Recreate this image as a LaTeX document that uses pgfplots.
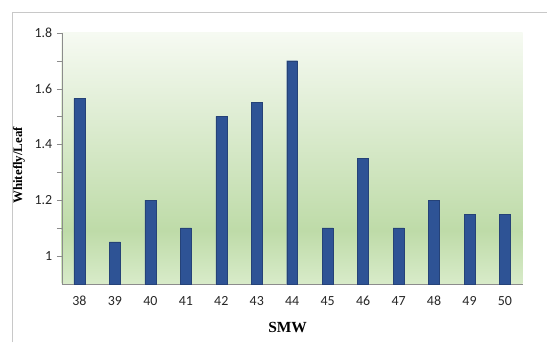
\documentclass[border=0pt]{standalone}
\usepackage{pgfplots}
\pgfplotsset{compat=1.18}
\usepackage{fontspec}
\setmainfont{Carlito}
\newfontfamily\tnr{Liberation Serif}
\definecolor{barblue}{HTML}{2E5395}
\definecolor{gtop}{HTML}{F6FAF2}
\definecolor{gmid}{HTML}{BEDBA8}
\definecolor{gbot}{HTML}{D8EBC9}
\definecolor{framegray}{HTML}{C8C8C8}
\definecolor{axgray}{HTML}{8C8C8C}
\begin{document}
\begin{tikzpicture}[x=1pt,y=1pt]
\path (0,0) rectangle (547,342);
\draw[framegray,line width=0.8pt] (12,-2) -- (12,330) -- (549,330);
% background gradient
\shade[top color=gtop, bottom color=gmid] (62,110) rectangle (525,309);
\shade[top color=gmid, bottom color=gbot] (62,57) rectangle (525,110.5);
\begin{axis}[
  at={(62pt,57pt)}, anchor=south west,
  scale only axis, width=463pt, height=252pt,
  xmin=37.5, xmax=50.5, ymin=0.9, ymax=1.8,
  axis line style={axgray},
  axis x line*=bottom, axis y line*=left,
  xtick={38,...,50}, xtick style={draw=none},
  ytick={1,1.2,1.4,1.6,1.8},
  minor ytick={1.1,1.3,1.5,1.7},
  yticklabels={1,1.2,1.4,1.6,1.8},
  ytick style={axgray}, tick align=outside,
  major tick length=5pt, minor tick length=5pt,
  minor tick style={axgray},
  tick label style={font=\fontsize{14}{16}\selectfont, text=black!85},
  /pgf/number format/assume math mode=true,
  yticklabel style={xshift=-1pt},
  xticklabel style={yshift=-4pt},
  ylabel={\tnr\bfseries Whitefly/Leaf},
  ylabel style={font=\fontsize{13}{15}\selectfont, at={(axis description cs:-0.093,0.472)}, anchor=center},
  xlabel={\tnr\bfseries SMW},
  xlabel style={font=\fontsize{15.5}{17}\selectfont, at={(axis description cs:0.49,0)}, anchor=center, yshift=-44pt},
  clip=false,
]
\addplot[ybar, bar width=11pt, fill=barblue, draw=barblue!80!black, bar shift=0pt]
coordinates {(38,1.565) (39,1.05) (40,1.2) (41,1.1) (42,1.5) (43,1.55) (44,1.7) (45,1.1) (46,1.35) (47,1.1) (48,1.2) (49,1.15) (50,1.15)};
\end{axis}
\end{tikzpicture}
\end{document}
